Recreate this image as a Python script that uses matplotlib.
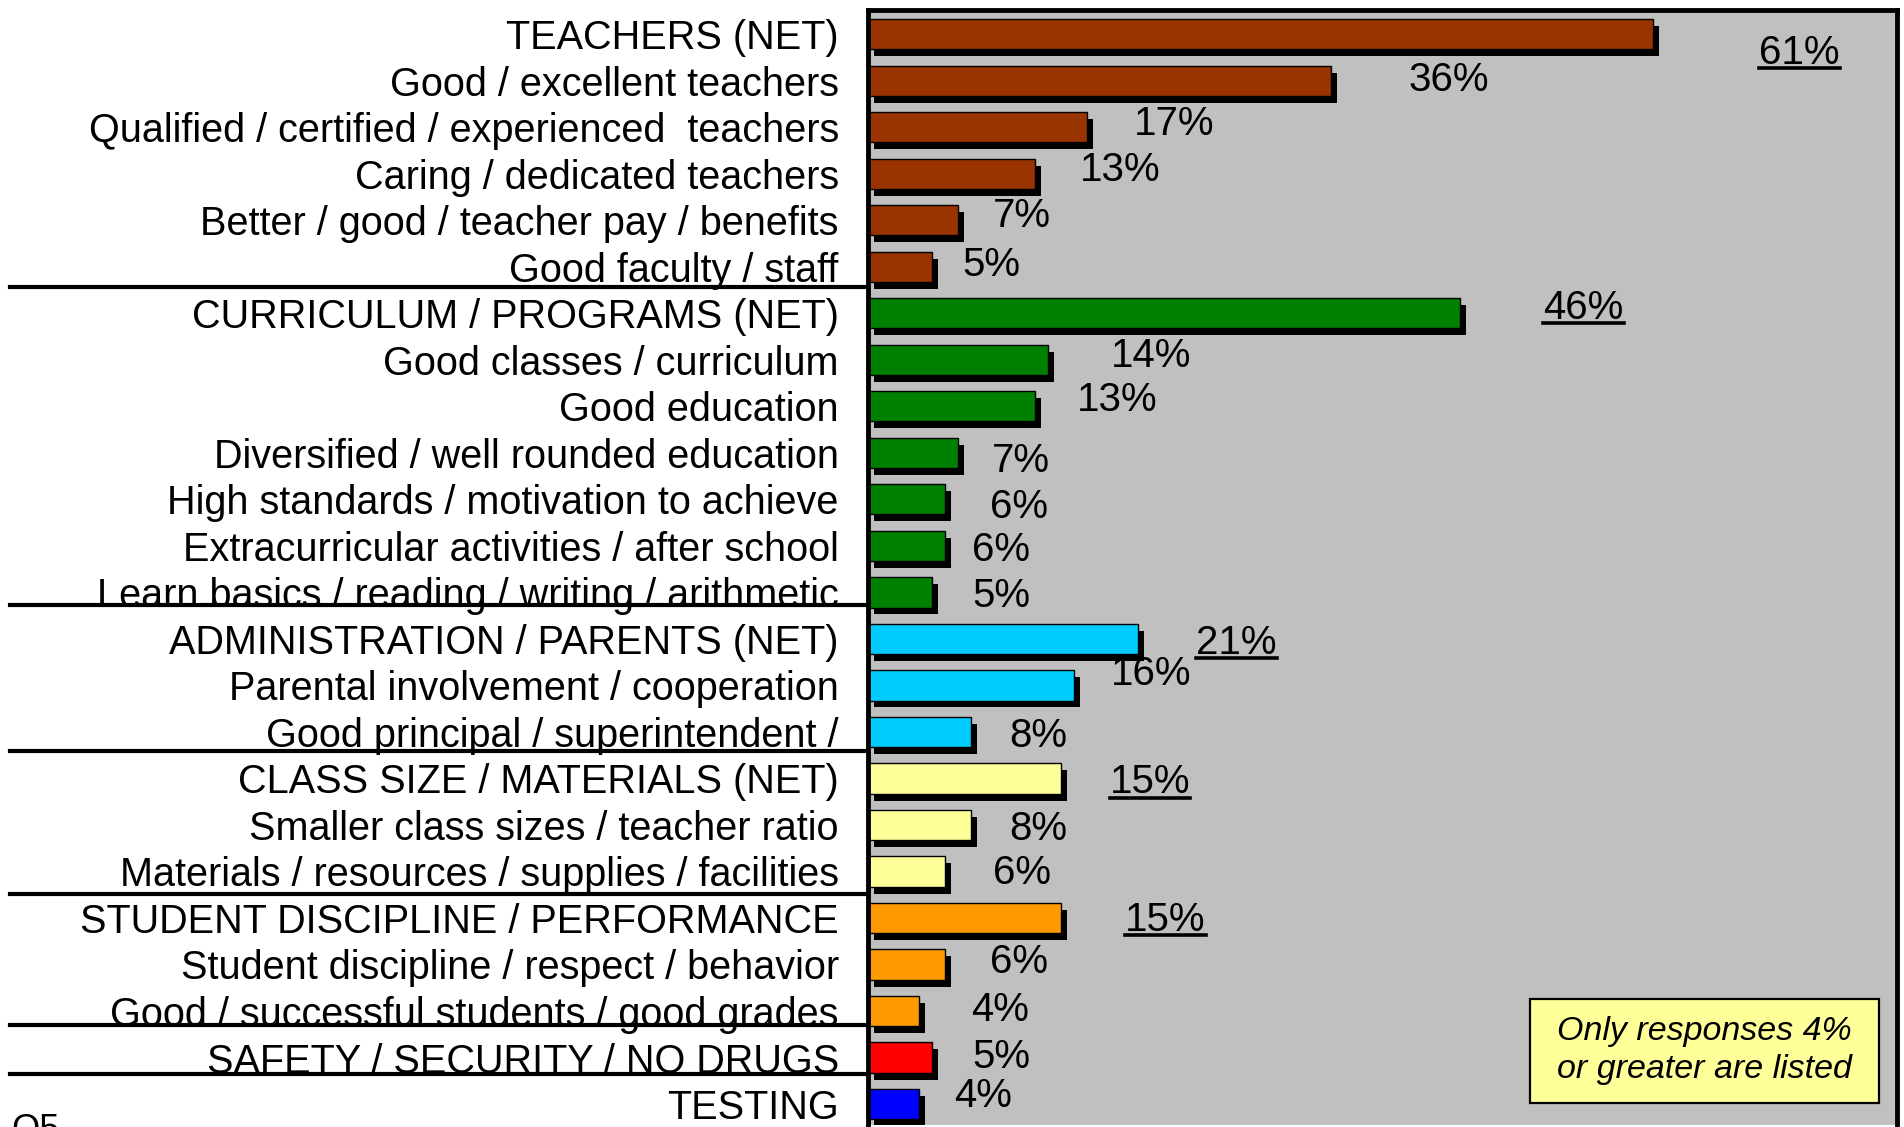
import matplotlib
matplotlib.use("Agg")
import matplotlib.pyplot as plt
import matplotlib.patheffects as pe
from matplotlib.lines import Line2D
from matplotlib.patches import Rectangle
from matplotlib.transforms import blended_transform_factory

plt.rcParams['font.family'] = ['Liberation Sans', 'DejaVu Sans']

categories = [
    "TEACHERS (NET)",
    "Good / excellent teachers",
    "Qualified / certified / experienced  teachers",
    "Caring / dedicated teachers",
    "Better / good / teacher pay / benefits",
    "Good faculty / staff",
    "CURRICULUM / PROGRAMS (NET)",
    "Good classes / curriculum",
    "Good education",
    "Diversified / well rounded education",
    "High standards / motivation to achieve",
    "Extracurricular activities / after school",
    "Learn basics / reading / writing / arithmetic",
    "ADMINISTRATION / PARENTS (NET)",
    "Parental involvement / cooperation",
    "Good principal / superintendent /",
    "CLASS SIZE / MATERIALS (NET)",
    "Smaller class sizes / teacher ratio",
    "Materials / resources / supplies / facilities",
    "STUDENT DISCIPLINE / PERFORMANCE",
    "Student discipline / respect / behavior",
    "Good / successful students / good grades",
    "SAFETY / SECURITY / NO DRUGS",
    "TESTING",
]
values = [61, 36, 17, 13, 7, 5,
          46, 14, 13, 7, 6, 6, 5,
          21, 16, 8,
          15, 8, 6,
          15, 6, 4,
          5,
          4]
groups = ["teachers"] * 6 + ["curriculum"] * 7 + ["admin"] * 3 + ["class"] * 3 + \
         ["discipline"] * 3 + ["safety"] + ["testing"]
is_net = [c.endswith("(NET)") or c == "STUDENT DISCIPLINE / PERFORMANCE" for c in categories]

group_colors = {
    "teachers": "#993300",
    "curriculum": "#008000",
    "admin": "#00CCFF",
    "class": "#FFFF99",
    "discipline": "#FF9900",
    "safety": "#FF0000",
    "testing": "#0000FF",
}

# where the value labels sit (left edge in % units, vertical shift in rows)
label_x = [69.3, 42.0, 20.7, 16.5, 9.7, 7.3,
           52.5, 18.9, 16.2, 9.6, 9.5, 8.1, 8.1,
           25.5, 18.9, 11.0,
           18.8, 11.0, 9.7,
           20.0, 9.5, 8.0,
           8.1,
           6.7]
label_dy = [0.31, -0.10, -0.16, -0.16, -0.18, -0.13,
            -0.21, -0.16, -0.23, 0.08, 0.08, 0.0, 0.0,
            0.0, -0.34, 0.0,
            0.0, 0.0, -0.05,
            -0.05, -0.13, -0.10,
            -0.10,
            -0.26]
# separator lines between groups (row units)
separators = [5.43, 12.27, 15.40, 18.49, 21.31, 22.35]

fig = plt.figure(figsize=(19.04, 11.27), dpi=100)
ax = fig.add_axes([0.4559, 0.0018, 0.5404, 0.9893])
ax.set_facecolor("#C0C0C0")

ypos = list(range(len(categories)))
colors = [group_colors[g] for g in groups]
bars = ax.barh(ypos, values, height=0.65, color=colors, edgecolor="black", linewidth=1)
for b in bars:
    b.set_path_effects([pe.SimplePatchShadow(offset=(4.3, -5), shadow_rgbFace="black", alpha=1.0),
                        pe.Normal()])

ax.set_xlim(0, 80)
ax.set_ylim(23.45, -0.52)
ax.set_xticks([])
ax.set_yticks(ypos)
ax.set_yticklabels(categories, fontsize=28.5)
ax.tick_params(axis="y", length=0, pad=21)
for s in ["top", "right", "left"]:
    ax.spines[s].set_linewidth(3.5)
    ax.spines[s].set_color("black")
ax.spines["bottom"].set_visible(False)

value_texts = []
for i, v in enumerate(values):
    t = ax.text(label_x[i], i + label_dy[i], f"{v}%", fontsize=29,
                ha="left", va="center_baseline")
    value_texts.append(t)

trans = blended_transform_factory(fig.transFigure, ax.transData)
for y in separators:
    ax.add_line(Line2D([0.005, 0.4559], [y, y], transform=trans, color="black",
                       linewidth=3, clip_on=False))

# note box
ax.add_patch(Rectangle((0.643, 0.0197), 0.340, 0.0933, transform=ax.transAxes,
                       facecolor="#FFFF99", edgecolor="black", linewidth=1.6, zorder=5))
ax.text(0.813, 0.0665, "Only responses 4%\nor greater are listed", transform=ax.transAxes,
        fontsize=24.5, style="italic", ha="center", va="center", linespacing=1.3, zorder=6)

fig.text(0.006, 0.0124, "Q5", fontsize=26, ha="left", va="top")

# underline the NET values
fig.canvas.draw()
r = fig.canvas.get_renderer()
for t, net in zip(value_texts, is_net):
    if net:
        bb = t.get_window_extent(r)
        y = bb.y0 + 0.1 * bb.height
        fig.add_artist(Line2D([bb.x0, bb.x1], [y, y], transform=None, color="black", linewidth=2.6))

fig.savefig("out.png", dpi=100)
